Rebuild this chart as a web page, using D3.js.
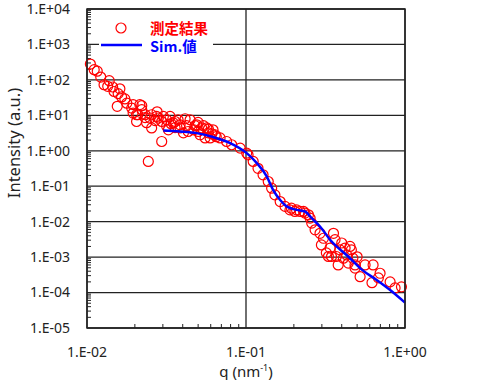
<!DOCTYPE html>
<html>
<head>
<meta charset="utf-8">
<script src="https://cdn.jsdelivr.net/npm/d3@7"></script>
<style>
  body { margin: 0; background: #fff; }
  svg text { font-family: "Noto Sans", "Open Sans", sans-serif; }
</style>
</head>
<body>
<div id="chart"></div>
<script>
// measured data (q in nm^-1, intensity in a.u.)
var measQ = [0.0105, 0.0111, 0.0116, 0.0122, 0.0128, 0.0135, 0.0138, 0.0145, 0.0148, 0.0157,
  0.0161, 0.0165, 0.0173, 0.0155, 0.0178, 0.0191, 0.0195, 0.0195, 0.0215, 0.0221,
  0.0205, 0.0205, 0.0232, 0.0249, 0.0255, 0.0274, 0.0268, 0.0255, 0.0237, 0.0295,
  0.0302, 0.0317, 0.0317, 0.0333, 0.0349, 0.0358, 0.0385, 0.0385, 0.0404, 0.0423,
  0.0433, 0.0478, 0.049, 0.050, 0.050, 0.0514, 0.0526, 0.054, 0.0553, 0.0567,
  0.058, 0.0595, 0.058, 0.0295, 0.0243, 0.0281, 0.0221, 0.0232, 0.0209, 0.0358,
  0.0445, 0.062, 0.064, 0.047, 0.0325, 0.0374, 0.0414, 0.0276, 0.0338, 0.061,
  0.065, 0.0687, 0.0755, 0.0813, 0.0919, 0.101, 0.103, 0.111, 0.119, 0.128,
  0.138, 0.145, 0.152, 0.164, 0.176, 0.189, 0.203, 0.219, 0.235, 0.253,
  0.259, 0.272, 0.292, 0.307, 0.355, 0.298, 0.32, 0.345, 0.38, 0.363,
  0.40, 0.42, 0.451, 0.43, 0.47, 0.50, 0.41, 0.44, 0.485, 0.485,
  0.522, 0.561, 0.63, 0.62, 0.697, 0.68, 0.806, 0.866, 0.95, 0.33,
  0.37, 0.338, 0.39, 0.46, 0.23, 0.247, 0.208, 0.193];
var measI = [280, 194, 176, 120, 73, 66, 95, 63, 47, 41,
  56, 33, 29, 18, 22, 16, 11.6, 20, 20, 14.4,
  10.4, 6.7, 10.4, 8.4, 10.4, 9.3, 7.1, 4.4, 6.2, 6.7,
  9.3, 7.5, 4.9, 9.3, 6.1, 6.7, 5.4, 4.4, 3.2, 5.1,
  3.5, 5.1, 5.4, 6.3, 3.5, 2.83, 4.4, 5.1, 2.3, 4.4,
  3.2, 2.3, 4.1, 1.83, 0.50, 8.4, 18.7, 8.6, 10.4, 4.5,
  7.5, 3.9, 2.8, 3.9, 3.9, 7.5, 8.0, 12.6, 5.8, 3.0,
  2.5, 2.3, 1.83, 1.48, 1.19, 0.86, 0.77, 0.50, 0.32, 0.21,
  0.136, 0.088, 0.057, 0.037, 0.027, 0.0215, 0.0194, 0.0194, 0.0175, 0.0126,
  0.0091, 0.0059, 0.0047, 0.0034, 0.0047, 0.0022, 0.00132, 0.00104, 0.00060, 0.0031,
  0.0025, 0.0018, 0.0020, 0.00115, 0.00093, 0.00102, 0.00093, 0.00068, 0.00060, 0.00049,
  0.00028, 0.00060, 0.00060, 0.00019, 0.00035, 0.00026, 0.00020, 0.000135, 0.000145, 0.00104,
  0.00104, 0.0018, 0.0016, 0.0016, 0.0194, 0.0156, 0.0215, 0.024];

// simulation curve
var simQ = [0.0302, 0.0385, 0.049, 0.062, 0.0795, 0.101, 0.117, 0.135, 0.148, 0.164,
  0.180, 0.208, 0.235, 0.259, 0.292, 0.338, 0.451, 0.54, 0.66, 0.806, 1.0];
var simI = [3.75, 3.5, 3.15, 2.44, 1.65, 0.86, 0.45, 0.19, 0.079, 0.041,
  0.027, 0.0215, 0.0194, 0.0125, 0.0073, 0.0031, 0.00093, 0.00043, 0.00023, 0.000118, 0.000052];

var xDecades = [-2, -1, 0];
var yDecades = [-5, -4, -3, -2, -1, 0, 1, 2, 3, 4];
var xTickLabels = ["1.E-02", "1.E-01", "1.E+00"];
var yTickLabels = ["1.E-05", "1.E-04", "1.E-03", "1.E-02", "1.E-01", "1.E+00", "1.E+01", "1.E+02", "1.E+03", "1.E+04"];
var legendLabels = ["測定結果", "Sim.値"];

(function() {
  var width = 492, height = 380;
  var pl = 87, pr = 405, pt = 9, pb = 328;

  var svg = d3.select("#chart").append("svg")
    .attr("width", width)
    .attr("height", height);

  var x = d3.scaleLog().domain([0.01, 1]).range([pl, pr]);
  var y = d3.scaleLog().domain([1e-5, 1e4]).range([pb, pt]);

  var grid = svg.append("g");

  // horizontal gridlines at every decade
  grid.selectAll(".hg")
    .data(yDecades)
    .enter().append("line")
    .attr("x1", pl).attr("x2", pr)
    .attr("y1", function(d) { return y(Math.pow(10, d)); })
    .attr("y2", function(d) { return y(Math.pow(10, d)); })
    .attr("stroke", "#222").attr("stroke-width", 1.3);

  // vertical gridlines
  grid.selectAll(".vg")
    .data(xDecades)
    .enter().append("line")
    .attr("y1", pt).attr("y2", pb)
    .attr("x1", function(d) { return x(Math.pow(10, d)); })
    .attr("x2", function(d) { return x(Math.pow(10, d)); })
    .attr("stroke", "#222").attr("stroke-width", 1.3);

  // minor ticks (inside)
  var yMinor = [];
  yDecades.slice(0, -1).forEach(function(d) {
    d3.range(2, 10).forEach(function(m) { yMinor.push(m * Math.pow(10, d)); });
  });
  grid.selectAll(".ym")
    .data(yMinor)
    .enter().append("line")
    .attr("x1", pl).attr("x2", pl + 4)
    .attr("y1", function(d) { return y(d); })
    .attr("y2", function(d) { return y(d); })
    .attr("stroke", "#222").attr("stroke-width", 1);

  var xMinor = [];
  xDecades.slice(0, -1).forEach(function(d) {
    d3.range(2, 10).forEach(function(m) { xMinor.push(m * Math.pow(10, d)); });
  });
  grid.selectAll(".xm")
    .data(xMinor)
    .enter().append("line")
    .attr("y1", pb).attr("y2", pb - 4)
    .attr("x1", function(d) { return x(d); })
    .attr("x2", function(d) { return x(d); })
    .attr("stroke", "#222").attr("stroke-width", 1);

  // tick labels
  svg.selectAll(".yl")
    .data(yDecades)
    .enter().append("text")
    .attr("x", 70)
    .attr("y", function(d) { return y(Math.pow(10, d)); })
    .attr("dy", "0.35em")
    .attr("text-anchor", "end")
    .attr("font-size", 14)
    .attr("fill", "#222")
    .text(function(d, i) { return yTickLabels[i]; });

  svg.selectAll(".xl")
    .data(xDecades)
    .enter().append("text")
    .attr("x", function(d) { return x(Math.pow(10, d)); })
    .attr("y", 352)
    .attr("dy", "0.35em")
    .attr("text-anchor", "middle")
    .attr("font-size", 14)
    .attr("fill", "#222")
    .text(function(d, i) { return xTickLabels[i]; });

  // axis titles
  var xt = svg.append("text")
    .attr("x", 246).attr("y", 377)
    .attr("text-anchor", "middle")
    .attr("font-size", 15)
    .attr("fill", "#222");
  xt.append("tspan").text("q (nm");
  xt.append("tspan").attr("dy", -6).attr("font-size", 9).text("-1");
  xt.append("tspan").attr("dy", 6).text(")");

  svg.append("text")
    .attr("transform", "translate(20,143) rotate(-90)")
    .attr("text-anchor", "middle")
    .attr("font-size", 16.5)
    .attr("fill", "#222")
    .text("Intensity (a.u.)");

  // measured points
  var pts = measQ.map(function(q, i) { return [q, measI[i]]; });
  svg.append("g").selectAll("circle")
    .data(pts)
    .enter().append("circle")
    .attr("cx", function(d) { return x(d[0]); })
    .attr("cy", function(d) { return y(d[1]); })
    .attr("r", 5)
    .attr("fill", "none")
    .attr("stroke", "#ff0000")
    .attr("stroke-width", 1.2);

  // simulation line
  var line = d3.line()
    .x(function(d) { return x(d[0]); })
    .y(function(d) { return y(d[1]); })
    .curve(d3.curveMonotoneX);
  svg.append("path")
    .datum(simQ.map(function(q, i) { return [q, simI[i]]; }))
    .attr("d", line)
    .attr("fill", "none")
    .attr("stroke", "#0000ff")
    .attr("stroke-width", 2.5);

  // frame
  svg.append("rect")
    .attr("x", pl).attr("y", pt)
    .attr("width", pr - pl).attr("height", pb - pt)
    .attr("fill", "none")
    .attr("stroke", "#222").attr("stroke-width", 1.5);

  // legend
  var lg = svg.append("g");
  lg.append("rect")
    .attr("x", 99).attr("y", 15).attr("width", 114).attr("height", 42)
    .attr("fill", "#fff");
  lg.append("circle")
    .attr("cx", 121).attr("cy", 28).attr("r", 5)
    .attr("fill", "none").attr("stroke", "#ff0000").attr("stroke-width", 1.2);
  lg.append("line")
    .attr("x1", 101).attr("x2", 142).attr("y1", 45).attr("y2", 45)
    .attr("stroke", "#0000ff").attr("stroke-width", 2.5);
  lg.append("text")
    .attr("x", 150).attr("y", 29).attr("dy", "0.35em")
    .attr("font-size", 14.5).attr("font-weight", "bold")
    .attr("fill", "#ff0000")
    .style("font-family", "'Noto Sans CJK JP', sans-serif")
    .text(legendLabels[0]);
  lg.append("text")
    .attr("x", 150).attr("y", 47).attr("dy", "0.35em")
    .attr("font-size", 14.5).attr("font-weight", "bold")
    .attr("fill", "#0000ff")
    .style("font-family", "'Noto Sans CJK JP', sans-serif")
    .text(legendLabels[1]);
})();
</script>
</body>
</html>
